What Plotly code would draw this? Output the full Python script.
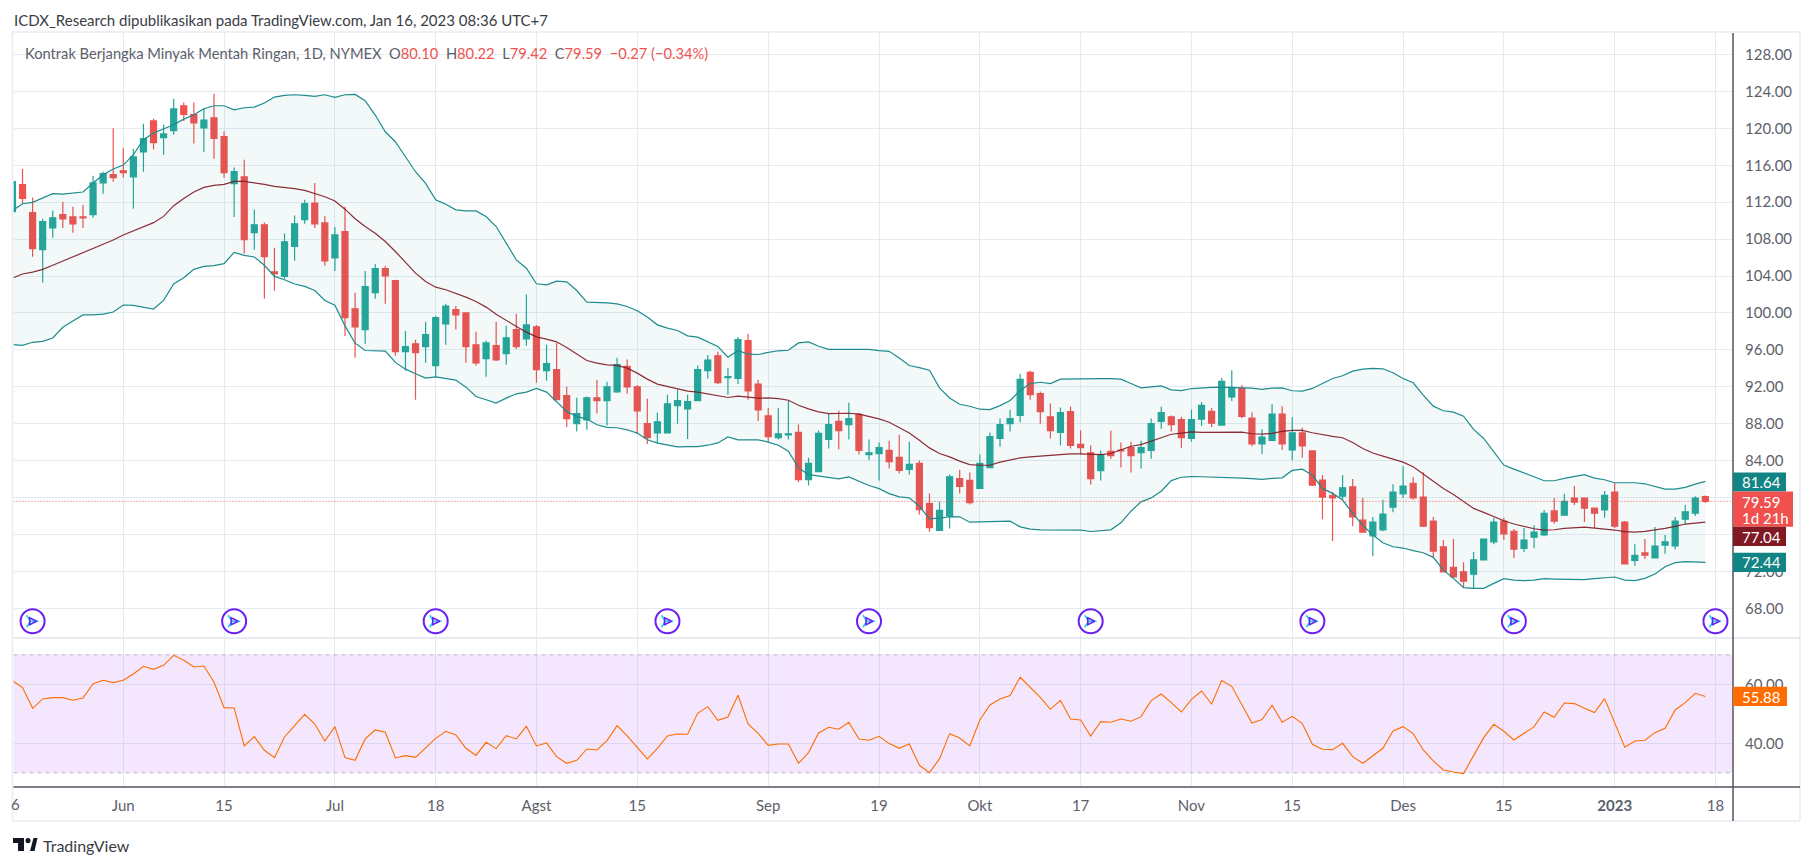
import plotly.graph_objects as go

W, H = 1813, 866
opens = [110.97,113.9,110.86,106.85,109.2,110.65,110.4,110.4,110.65,114.1,115,115.4,114.75,117.45,120.8,119,119.75,122.45,121.5,120.05,121.15,119.1,114,114.75,108.7,109.55,104.45,103.95,107.2,110.1,
111.9,109.75,105.95,108.8,100.45,98.2,102.2,104.8,103.5,95.8,96.65,96.35,94.3,98.8,100.35,100,96.55,95.05,96.45,95.6,98.2,97.2,98.5,93.75,93.85,91.05,88,88.4,90.8,90.5,
91.45,94.2,92,88,87,87,89.95,89.6,90.5,93.75,95.35,93,92.9,97,92.3,88.85,86.5,86.8,87.05,81.95,82.8,86.3,88.25,87.9,89,84.65,84.75,85.1,84.35,83.05,
83.7,79.35,76.45,78.05,82.05,81.85,81,83.25,86.4,88,88.9,93.55,91.25,88.75,87.05,89.3,85.75,84.85,82.9,85,85.15,85.4,84.85,85.1,88.25,88.75,88.45,86.4,88.5,89.35,
87.85,90.9,91.85,88.6,85.8,86.2,89.05,85.15,87,85.05,81.9,80.25,80.15,81.15,77.55,75.85,76.5,78.95,80.4,81.55,80.05,77.45,74.65,72.45,71.95,71.7,73.25,75.2,77.45,76.35,
74.5,75.7,75.95,78.55,78.1,79.95,79.95,78.85,78.65,80.6,77.35,73.2,74,73.45,74.85,74.75,77.65,78.3,80.10]
highs = [114.3,115.6,112.5,110.2,111.1,112.05,111.5,111.7,114.85,115.3,120,117.9,117.8,120.5,121.05,120.4,123.2,122.8,122.8,122.2,123.75,119.65,115.75,116.6,111.2,109.8,107.05,108.6,110.55,112.25,
114.07,110.5,109.3,111.5,102.2,104.55,105.3,105.1,103.6,98.05,97.1,99.05,99.7,101,100.75,100,97.95,97,99.05,98.6,99.9,102,98.7,96.55,96.75,92,90.8,90.95,92.75,92.55,
95.15,94.95,92.2,90.7,89.2,91.15,91.7,91.15,94.3,95.45,95.8,94.05,97.4,97.75,92.75,89.7,89.7,90.5,87.9,84.3,87.25,89.05,89.4,90.3,89.15,86.3,85.95,86.15,86.8,86.05,
84,80.45,79.55,82.5,83,82.7,84.65,87.05,88.55,89.5,93.4,93.75,91.5,90.2,89.75,89.85,87.25,85.65,85.1,87.25,85.95,86.05,86.15,88.55,89.85,88.9,88.75,89.5,90.35,89.7,
92.95,93.8,92.2,89.25,87.4,90.1,89.9,88.7,87.55,85.05,82.45,80.6,82.45,82,79.95,77.9,79.75,81.45,83.4,82.2,82.75,77.9,75.4,75.5,73,74.1,75.5,77.8,77.8,76.6,
76.7,77,78.65,79.95,80.4,81.25,79.95,78.85,80.7,81.55,77.45,74.95,75.5,76.8,75.95,77.9,79.2,80.15,80.22]
lows = [110.9,111.8,106.1,103.3,108.15,109.2,108.7,109.2,110.3,112.9,114.2,114.65,111.3,115.3,117.7,117.15,119.3,120.8,118.35,117.45,116.7,114.65,110.4,106.4,106.85,101.55,102.4,103.7,105.65,109.65,
109.2,105.1,104.55,97.5,95.15,96.65,101.55,101,95.35,93.75,90.6,94.6,93.1,96.55,98.2,94.6,94.3,93.1,94.8,94.4,96.1,96.45,92.45,92.65,90.6,87.65,87.15,87.35,89.1,87.8,
91.35,91.25,86.9,85.8,85.9,87,88,86.35,90.5,92.9,92.3,91.15,92.3,90.6,88.3,86.05,86.3,86.3,81.65,81.3,82.8,85.3,85.2,86.3,84.65,84.05,81.85,83.15,82.6,82.5,
78.15,76.3,76.45,76.65,80.45,79.25,81,83.25,85.5,87.15,88.15,90.6,88,86.4,85.65,85.3,84.65,81.4,81.85,84.2,83.25,82.7,83.15,84.2,87.45,87.15,85.4,86.05,87.75,87.65,
87.85,90.45,88.6,85.55,84.7,86.2,85.15,84.05,84.3,81.25,77.65,75.3,79.85,76.9,76.25,73.65,76.35,78.4,79.95,79.75,76.8,73.55,71.95,71.3,70.2,70.2,73.25,74.95,75.4,73.45,
74.1,74.5,75.8,77.15,78,79.2,77.35,76.7,77.8,76.7,72.8,72.6,73.35,73.45,73.9,74.4,77.1,78,79.42]
closes = [114.22,112.4,106.96,109.9,110.3,110.2,109.65,110.3,114.1,115.1,114.65,115.2,116.9,118.9,118.45,119.4,122.1,121.5,120.6,120.9,118.9,115.2,115.3,107.95,109.55,106.1,104.25,107.7,109.65,111.85,
109.65,105.65,108.45,99.5,98.5,102.85,104.8,104,95.8,96.35,95.7,97.65,99.5,100.75,99.8,96.35,94.6,96.75,94.9,97.3,96.35,98.7,93.85,94.5,90.6,88.55,89.1,90.8,90.5,92,
94.4,92,89.4,86.5,88.2,90.15,90.5,90.4,93.85,94.9,92.45,93.1,97.1,91.55,89.5,86.6,86.9,86.9,81.95,83.7,86.95,87.9,87.25,88.55,85.1,84.85,85.4,83.9,82.95,83.6,
78.7,76.75,78.6,82.25,81.2,79.45,83.7,86.6,87.9,88.55,92.8,91.15,89.3,87.25,89.2,85.65,85.4,82.05,84.65,84.55,85.05,84.55,85.4,88,89.2,87.9,86.5,88.45,90,88.05,
92.6,91.95,88.8,85.8,86.55,89.05,85.8,87,85.6,81.35,80.05,79.95,81.05,77.9,76.25,77.35,78.2,80.6,81.25,79.95,76.9,74.2,71.95,71.4,70.95,73.25,75.5,77.35,76.05,74.4,
75.4,76.25,78.3,77.45,79.6,79.5,78.85,78.3,80.25,76.9,72.8,73.75,73.75,74.75,75.2,77.45,78.45,79.95,79.59]
upper = [111.08,111.83,111.98,112.45,112.92,112.88,112.99,113.1,114.07,114.97,115.59,116.02,117.14,118.77,119.49,119.92,120.39,121,121.47,122.12,122.45,122.45,122.01,122.23,122.3,122.74,123.39,123.57,123.64,123.57,
123.46,123.64,123.35,123.64,123.68,122.99,121.44,119.63,118.55,116.92,115.3,114.04,
112.25,111.78,111.17,111.06,111.06,110.45,109.36,107.56,105.75,104.85,103.16,103.05,103.44,103.37,102.43,101.17,101.17,101.1,100.99,100.7,100.23,99.55,98.71,98.35,98.1,97.52,97.38,96.91,96.37,95.21,95.93,95.53,95.5,95.72,95.9,
95.96,96.75,96.86,96.39,96.06,96.03,96.06,96.06,96.06,95.92,95.84,95.12,94.3,94.08,93.79,91.88,90.79,90.11,89.89,89.57,89.53,89.96,90.51,91.59,92.35,92.49,92.35,92.82,92.85,92.85,92.85,92.89,92.89,92.82,92.35,91.88,91.99,92.09,91.66,91.59,91.81,
91.89,91.93,91.96,91.96,91.89,91.86,91.71,91.86,91.89,91.57,91.53,91.82,92.36,92.9,93.19,93.7,93.91,93.99,93.95,93.52,92.9,92.43,91.1,89.9,89.4,89.26,88.82,87.38,86.4,84.96,83.52,83.08,82.69,82.25,81.82,81.82,82.07,82.29,82.47,82.11,81.93,81.6,81.6,81.6,81.49,81.17,80.92,80.92,81.1,81.46,81.75]
basis = [103.78,104.22,104.43,104.72,105.16,105.62,106.06,106.49,106.96,107.43,107.9,108.44,108.87,109.34,109.78,110.46,111.62,112.41,113.1,113.6,113.82,113.93,114.25,114.25,114.11,113.93,113.71,113.6,113.46,113.28,
112.95,112.59,112.12,
111.24,110.2,109.36,108.64,107.74,106.66,105.5,104.31,103.41,102.79,102.51,102.14,101.71,101.24,100.63,99.87,99.18,98.53,97.92,97.41,97.16,96.87,96.26,95.57,94.85,94.56,94.38,94.31,94.02,93.48,92.83,92.29,92.04,91.86,91.53,91.42,91.24,91.06,90.84,90.99,90.92,90.77,
90.79,90.72,90.54,90,89.6,89.28,89.1,89.1,89.13,89.03,88.81,88.52,88.16,87.62,87,86.21,85.38,84.77,84.4,83.94,83.57,83.5,83.5,83.83,84.08,84.3,84.4,84.48,84.55,84.69,84.73,84.73,84.66,84.66,84.77,85.13,85.56,85.74,86.1,86.53,86.86,86.97,87.11,
87.05,87.05,87.05,87.05,87.09,86.91,86.87,86.95,87.16,
87.27,87.27,87.02,86.8,86.62,86.48,85.97,85.32,84.82,84.49,84.17,83.84,83.34,82.54,81.71,80.99,80.34,79.62,78.82,78.39,77.92,77.49,77.13,76.84,76.62,76.48,76.51,76.66,76.77,76.8,76.69,76.62,76.48,76.3,76.26,76.33,76.48,76.66,76.87,77.13,77.23,77.34]
lower = [96.56,96.49,96.82,96.92,97.29,98.44,99.13,99.78,99.78,99.88,100.1,100.86,100.82,100.6,100.42,101.36,103.13,103.82,104.72,105.05,105.12,105.34,106.56,106.24,106.06,105.16,103.96,103.6,103.13,102.88,
102.43,101.35,100.84,98.6,96.73,95.93,95.86,95.86,94.64,93.91,93.41,92.94,93.08,92.9,92.72,91.96,90.95,90.59,90.23,90.77,91.24,91.42,91.82,91.42,90.41,89.33,88.79,88.5,87.88,87.6,87.56,87.34,86.98,86.26,85.9,85.72,85.5,
85.52,85.52,85.67,85.92,86.57,86.25,86.25,86.25,86,85.67,85.02,83.21,82.49,82.31,82.17,82.02,82.24,81.77,81.3,80.97,80.43,80.07,79.96,79.06,77.69,77.76,77.94,77.91,77.33,77.36,77.4,77.44,77.44,76.82,76.57,76.5,76.5,76.5,76.5,76.46,76.32,76.43,76.5,77.26,78.52,79.53,79.96,80.69,81.84,82.2,82.27,
82.25,82.22,82.22,82.14,82.11,82.04,81.96,82.07,82.14,
82.94,83.08,82.43,80.99,80.45,79.73,78.28,76.98,75.94,75.1,74.67,74.53,74.24,74.02,73.52,72.14,71.24,70.23,70.16,70.16,70.7,71.21,71.06,70.99,71.06,71.21,71.17,71.13,71.1,71.1,71.21,71.28,71.39,71.06,70.99,71.24,71.71,72.51,72.94,73.05,72.97,72.97]
rsi = [61.24,58.87,51.86,55.03,55.48,55.48,54.58,55.37,60.23,61.36,60.56,61.36,63.5,66.1,65.08,66.44,69.83,68.14,65.88,66.21,60.68,52.09,51.98,39.1,42.26,37.63,35.14,42.15,45.99,49.83,46.55,40.79,45.65,35.14,34.24,41.47,44.52,43.73,35.03,35.82,35.25,38.53,41.69,44.07,42.82,38.31,35.88,40.34,38.19,42.6,41.47,45.76,
39.1,40.11,35.48,33.22,34.24,38.08,37.74,40.9,45.99,42.49,38.64,34.69,38.31,42.49,43.16,43.05,50.17,52.43,47.8,48.93,56.27,46.55,43.39,39.32,39.77,39.77,33.22,36.84,43.5,45.42,44.75,47.12,41.47,41.02,42.37,39.89,38.31,39.77,32.54,30.06,34.8,43.28,41.81,39.1,47.91,52.99,55.03,56.16,62.38,58.98,55.59,51.53,
54.58,48.25,47.91,42.49,47.34,47.12,48.25,47.46,49.04,54.46,56.72,53.79,50.62,54.92,57.74,53.33,61.24,59.32,52.99,46.89,48.02,52.88,47.12,49.15,46.67,39.66,37.97,37.85,40,35.48,33.22,35.71,38.31,44.18,45.65,43.28,37.74,34.01,30.96,30.28,29.72,35.82,41.92,46.44,44.07,41.13,43.39,45.65,50.62,48.81,53.67,
53.45,51.86,50.4,55.14,46.78,38.64,40.79,41.02,43.62,45.08,51.3,53.79,56.95,55.88]
for name, arr in dict(opens=opens, highs=highs, lows=lows, closes=closes, upper=upper, basis=basis, lower=lower, rsi=rsi).items():
    assert len(arr) == 169, (name, len(arr))
bars = list(range(169))

time_tick_bars = [11,21,32,42,52,62,75,86,96,106,117,127,138,148,159,169]
time_tick_labels = ["Jun","15","Jul","18","Agst","15","Sep","19","Okt","17","Nov","15","Des","15","<b>2023</b>","18"]
price_ticks = [68,72,76,80,84,88,92,96,100,104,108,112,116,120,124,128]
price_tick_labels = ["68.00","72.00","","","84.00","88.00","92.00","96.00","100.00","104.00","108.00","112.00","116.00","120.00","124.00","128.00"]
rsi_ticks = [40,60]
rsi_tick_labels = ["40.00","60.00"]
dividend_bars = [2,22,42,65,85,107,129,149,169]
dividend_level = 66.6

UP, DOWN = "#26a69a", "#ef5350"
BAND, MID, RSI_C = "#1e8c8c", "#801922", "#ff6d00"
GRID, TXT = "#e4ecf2", "#5d606b"
FONT = "Lato"
L, R, T, SEP, AX, B, FR = 13.5, 1733, 33, 638, 787, 821, 1800
px = lambda x: x / W
py = lambda y: 1 - y / H

fig = go.Figure()
fig.add_trace(go.Scatter(x=bars, y=upper, mode="lines", line=dict(color=BAND, width=1.2), xaxis="x", yaxis="y"))
fig.add_trace(go.Scatter(x=bars, y=lower, mode="lines", line=dict(color=BAND, width=1.2), fill="tonexty", fillcolor="rgba(19,132,132,0.05)", xaxis="x", yaxis="y"))
fig.add_trace(go.Scatter(x=bars, y=basis, mode="lines", line=dict(color=MID, width=1.2), opacity=0.9, xaxis="x", yaxis="y"))
fig.add_trace(go.Candlestick(x=bars, open=opens, high=highs, low=lows, close=closes,
    increasing=dict(line=dict(color=UP, width=1.2), fillcolor=UP),
    decreasing=dict(line=dict(color=DOWN, width=1.2), fillcolor=DOWN),
    whiskerwidth=0, xaxis="x", yaxis="y"))
# dividend markers
PURPLE = "#6a1ff5"
lv = [dividend_level] * len(dividend_bars)
fig.add_trace(go.Scatter(x=dividend_bars, y=lv, mode="markers", cliponaxis=False,
    marker=dict(symbol="circle", size=24, color="white", line=dict(color=PURPLE, width=2)), xaxis="x", yaxis="y"))
fig.add_trace(go.Scatter(x=[b - 0.2 for b in dividend_bars], y=lv, mode="markers", cliponaxis=False,
    marker=dict(symbol="y-right-open", size=10, line=dict(color=PURPLE, width=1.6)), xaxis="x", yaxis="y"))
fig.add_trace(go.Scatter(x=[b + 0.4 for b in dividend_bars], y=lv, mode="markers", cliponaxis=False,
    marker=dict(symbol="arrow-right-open", size=7, color=PURPLE, line=dict(color=PURPLE, width=1.5)), xaxis="x", yaxis="y"))
fig.add_trace(go.Scatter(x=bars, y=rsi, mode="lines", line=dict(color=RSI_C, width=1.1), xaxis="x2", yaxis="y2"))

x0 = (L - 12.45) / 10.077
x1 = (R - 12.45) / 10.077
xcommon = dict(type="linear", range=[x0, x1], tickmode="array", tickvals=time_tick_bars,
               showgrid=True, gridcolor=GRID, gridwidth=1, zeroline=False)
ycommon = dict(side="right", showgrid=True, gridcolor=GRID, gridwidth=1, zeroline=False, tickmode="array",
               tickfont=dict(family=FONT, size=15, color=TXT), ticks="outside", ticklen=8,
               tickcolor="rgba(0,0,0,0)", showline=False)
shapes = []
def rect(x_0, y_0, x_1, y_1, fill):
    shapes.append(dict(type="rect", xref="paper", yref="paper", x0=px(x_0), x1=px(x_1), y0=py(y_0), y1=py(y_1),
                       fillcolor=fill, line=dict(width=0), layer="above"))
def line(x_0, y_0, x_1, y_1, color, width=1, dash="solid"):
    shapes.append(dict(type="line", xref="paper", yref="paper", x0=px(x_0), x1=px(x_1), y0=py(y_0), y1=py(y_1),
                       line=dict(color=color, width=width, dash=dash), layer="above"))

# RSI band
shapes.append(dict(type="rect", xref="x2", yref="y2", x0=x0, x1=x1, y0=30, y1=70,
                   fillcolor="rgba(156,39,240,0.11)", line=dict(width=0), layer="between"))
for lev in (30, 70):
    shapes.append(dict(type="line", xref="x2", yref="y2", x0=x0, x1=x1, y0=lev, y1=lev,
                       line=dict(color="#bcaec9", width=1, dash="4px 4px"), layer="between"))
# last price dotted line
shapes.append(dict(type="line", xref="x", yref="y", x0=x0, x1=x1, y0=closes[-1], y1=closes[-1],
                   line=dict(color=DOWN, width=1, dash="1px 2px"), layer="above"))
# frame, separators
FRAME = "#eef0f6"
line(L - 1, T - 1, FR, T - 1, FRAME, 2)
line(L - 1, B, FR, B, FRAME, 2)
line(L - 1, T - 1, L - 1, B, FRAME, 2)
line(FR, T - 1, FR, B, FRAME, 2)
line(L, SEP, FR, SEP, "#e0e3eb", 1.5)
line(L, AX, FR, AX, "#50535e", 1.5)
line(R, T, R, B, "#50535e", 1.5)
# price labels
TEAL = "#138484"
rect(R, 472.5, 1786, 491.5, TEAL)
rect(R, 491.5, 1793, 526.7, "#f0514f")
rect(R, 526.7, 1786, 546, MID)
rect(R, 552.7, 1786, 572, TEAL)
rect(R, 686.7, 1787, 706, RSI_C)
# TradingView logo
DARK = "#131722"
rect(13, 838, 24, 843, DARK)
rect(18, 838, 24, 851, DARK)
shapes.append(dict(type="path", xref="paper", yref="paper", line=dict(width=0), fillcolor=DARK, layer="above",
                   path=f"M {px(30)} {py(851)} L {px(33.5)} {py(838)} L {px(37.5)} {py(838)} L {px(34.5)} {py(851)} Z"))
shapes.append(dict(type="circle", xref="paper", yref="paper", x0=px(25.5), x1=px(30.5), y0=py(843.2), y1=py(838),
                   fillcolor=DARK, line=dict(width=0), layer="above"))

def ann(text, x, y, size=14, color=TXT, anchor="left"):
    return dict(text=text, xref="paper", yref="paper", x=px(x), y=py(y), xanchor=anchor, yanchor="middle",
                showarrow=False, font=dict(family=FONT, size=size, color=color), borderpad=0)
R_ = DOWN
legend_text = (f"Kontrak Berjangka Minyak Mentah Ringan, 1D, NYMEX&nbsp;&nbsp;O<span style='color:{R_}'>80.10</span>"
               f"&nbsp;&nbsp;H<span style='color:{R_}'>80.22</span>&nbsp;&nbsp;L<span style='color:{R_}'>79.42</span>"
               f"&nbsp;&nbsp;C<span style='color:{R_}'>79.59</span>&nbsp;&nbsp;<span style='color:{R_}'>−0.27 (−0.34%)</span>")
annotations = [
    ann("ICDX_Research dipublikasikan pada TradingView.com, Jan 16, 2023 08:36 UTC+7", 13, 20, 15, "#3a3d45"),
    ann(legend_text, 23.5, 53, 14.7),
    ann("81.64", 1741, 482, 15, "white"),
    ann("79.59", 1741, 501.5, 15, "white"),
    ann("1d 21h", 1741, 518, 15, "white"),
    ann("77.04", 1741, 536.5, 15, "white"),
    ann("72.44", 1741, 562, 15, "white"),
    ann("55.88", 1741, 696.5, 15, "white"),
    ann("6", 15.5, 804, 15, TXT, "center"),
    ann("TradingView", 42, 845, 16, "#3a3d45"),
]

fig.update_layout(
    width=W, height=H, autosize=False, margin=dict(l=0, r=0, t=0, b=0), paper_bgcolor="white", plot_bgcolor="white",
    showlegend=False, hovermode=False, shapes=shapes, annotations=annotations, boxgap=0.15,
    xaxis=dict(domain=[px(L), px(R)], anchor="y", showticklabels=False, ticks="", rangeslider=dict(visible=False), **xcommon),
    xaxis2=dict(domain=[px(L), px(R)], anchor="y2", ticktext=time_tick_labels, showticklabels=True, ticks="outside", ticklen=5,
                tickcolor="rgba(0,0,0,0)", tickfont=dict(family=FONT, size=15, color=TXT), **xcommon),
    yaxis=dict(domain=[py(SEP), py(T)], range=[68 + (608.3 - SEP) / 9.23, 68 + (608.3 - T) / 9.23], anchor="x", tickvals=price_ticks, ticktext=price_tick_labels, **ycommon),
    yaxis2=dict(domain=[py(AX), py(SEP)], range=[40 - (AX - 743.3) / 2.95, 40 - (SEP - 743.3) / 2.95], anchor="x2", tickvals=rsi_ticks, ticktext=rsi_tick_labels, **ycommon),
)
fig.write_html("out.html", config={"displayModeBar": False},
               post_script="document.body.style.margin='0';document.documentElement.style.overflow='hidden';")
